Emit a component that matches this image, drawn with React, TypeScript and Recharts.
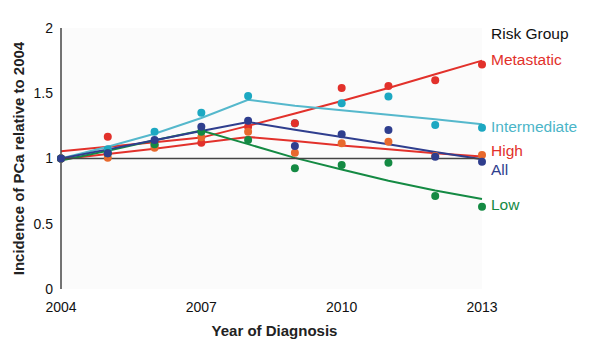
import React from 'react';
import { ComposedChart, Line, XAxis, YAxis, CartesianGrid, ReferenceLine } from 'recharts';

// years of diagnosis
const years = [2004, 2005, 2006, 2007, 2008, 2009, 2010, 2011, 2012, 2013];

// observed incidence relative to 2004 (dots)
const metastaticObs = [1.0, 1.167, 1.1, 1.121, 1.244, 1.27, 1.54, 1.555, 1.6, 1.72];
const intermediateObs = [1.0, 1.07, 1.205, 1.351, 1.479, 1.27, 1.423, 1.475, 1.257, 1.236];
const highObs = [1.0, 1.006, 1.083, 1.162, 1.205, 1.045, 1.116, 1.129, 1.02, 1.027];
const lowObs = [1.0, 1.04, 1.11, 1.205, 1.142, 0.925, 0.95, 0.968, 0.713, 0.63];
const allObs = [1.0, 1.04, 1.142, 1.244, 1.29, 1.096, 1.185, 1.218, 1.014, 0.976];

// fitted trends (lines)
const metastaticFit = [1.055, 1.09, 1.125, 1.16, 1.25, 1.345, 1.44, 1.54, 1.645, 1.75];
const intermediateFit = [1.0, 1.09, 1.19, 1.31, 1.45, 1.405, 1.37, 1.335, 1.3, 1.262];
const highFit = [0.995, 1.035, 1.075, 1.12, 1.165, 1.135, 1.1, 1.07, 1.04, 1.015];
const lowFit = [0.985, 1.06, 1.14, 1.215, 1.11, 1.005, 0.915, 0.83, 0.755, 0.69];
const allFit = [1.0, 1.07, 1.14, 1.21, 1.28, 1.22, 1.165, 1.11, 1.05, 0.995];

const yTicks = [0, 0.5, 1, 1.5, 2];
const xTicks = [2004, 2007, 2010, 2013];

const data = years.map((year, i) => ({
    year,
    metastaticObs: metastaticObs[i],
    intermediateObs: intermediateObs[i],
    highObs: highObs[i],
    lowObs: lowObs[i],
    allObs: allObs[i],
    metastaticFit: metastaticFit[i],
    intermediateFit: intermediateFit[i],
    highFit: highFit[i],
    lowFit: lowFit[i],
    allFit: allFit[i],
}));

const FONT = 'Arial, "Liberation Sans", sans-serif';

const RED = '#e2312b';
const CYAN_LINE = '#55b8cc';
const CYAN_DOT = '#1ca8c2';
const ORANGE = '#e8692d';
const NAVY = '#2f3e8e';
const GREEN = '#148a43';

// text next to the last dot of a series
const endLabel = (text: string, color: string, dy: number) => (props: any) => {
    if (props.index !== years.length - 1) return <g />;
    return (
        <text
            x={props.x + 9}
            y={props.y + dy}
            dominantBaseline="central"
            fill={color}
            fontSize={15.5}
            fontFamily={FONT}
        >
            {text}
        </text>
    );
};

const dotSeries = (key: string, color: string, label?: any) => (
    <Line
        key={key}
        dataKey={key}
        stroke="none"
        dot={{ r: 4, fill: color, stroke: 'none' }}
        activeDot={false}
        isAnimationActive={false}
        label={label}
    />
);

const fitSeries = (key: string, color: string) => (
    <Line
        key={key}
        dataKey={key}
        type="linear"
        stroke={color}
        strokeWidth={2}
        dot={false}
        activeDot={false}
        isAnimationActive={false}
    />
);

export default function App() {
    return (
        <div style={{ position: 'absolute', left: 0, top: 0, width: 592, height: 352, background: '#fff' }}>
            <ComposedChart width={592} height={352} data={data} margin={{ top: 28, right: 110, bottom: 0, left: 0 }}>
                <CartesianGrid horizontal={false} vertical={false} fill="#fbfbfb" />
                <XAxis
                    dataKey="year"
                    type="number"
                    domain={[2004, 2013]}
                    ticks={xTicks}
                    height={63}
                    axisLine={false}
                    tickLine={false}
                    tickSize={0}
                    tickMargin={13}
                    tick={{ fill: '#111', fontSize: 14, fontFamily: FONT }}
                    label={{
                        value: 'Year of Diagnosis',
                        position: 'center',
                        dy: 10,
                        dx: 3,
                        style: { fill: '#222', fontSize: 15, fontWeight: 'bold', fontFamily: FONT },
                    }}
                />
                <YAxis
                    type="number"
                    domain={[0, 2]}
                    ticks={yTicks}
                    width={61}
                    axisLine={{ stroke: '#444', strokeWidth: 1.5 }}
                    tickLine={false}
                    tickSize={0}
                    tickMargin={8}
                    tick={{ fill: '#111', fontSize: 14, fontFamily: FONT }}
                    label={{
                        value: 'Incidence of PCa relative to 2004',
                        angle: -90,
                        position: 'center',
                        dx: -12,
                        style: { fill: '#222', fontSize: 15, fontWeight: 'bold', fontFamily: FONT, textAnchor: 'middle' },
                    }}
                />
                {fitSeries('metastaticFit', RED)}
                {fitSeries('intermediateFit', CYAN_LINE)}
                {fitSeries('highFit', RED)}
                {fitSeries('lowFit', GREEN)}
                {fitSeries('allFit', NAVY)}
                <ReferenceLine y={1} stroke="#444" strokeWidth={1.5} />
                {dotSeries('intermediateObs', CYAN_DOT, endLabel('Intermediate', '#4bb5c8', -1))}
                {dotSeries('metastaticObs', RED, endLabel('Metastatic', RED, -5))}
                {dotSeries('highObs', ORANGE, endLabel('High', RED, -4))}
                {dotSeries('lowObs', GREEN, endLabel('Low', GREEN, -2))}
                {dotSeries('allObs', NAVY, endLabel('All', NAVY, 8))}
            </ComposedChart>
            <div
                style={{
                    position: 'absolute',
                    left: 491,
                    top: 25,
                    fontFamily: FONT,
                    fontSize: 15.5,
                    lineHeight: '17px',
                    color: '#111',
                    whiteSpace: 'nowrap',
                }}
            >
                Risk Group
            </div>
        </div>
    );
}
